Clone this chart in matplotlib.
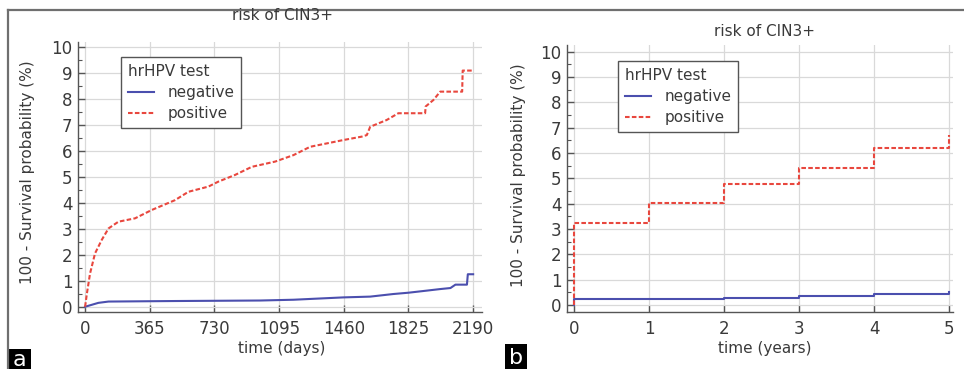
import matplotlib
matplotlib.use("Agg")
import matplotlib.pyplot as plt
from matplotlib.lines import Line2D
from matplotlib.patches import Rectangle
from matplotlib.ticker import MultipleLocator

plt.rcParams['font.family'] = ['DejaVu Sans']

# ---- data: panel a (days) ----
pos_days = [0, 10, 28, 56, 94, 132, 188, 282, 376, 508, 583, 696, 752, 847, 941,
            1072, 1176, 1270, 1364, 1458, 1561, 1590, 1609, 1702, 1768, 1919, 1922,
            1966, 2004, 2128, 2131, 2190]
pos_vals = [0, 0.5, 1.28, 2.05, 2.57, 3.01, 3.27, 3.40, 3.72, 4.10, 4.42, 4.62, 4.81, 5.07, 5.38,
            5.58, 5.83, 6.15, 6.28, 6.41, 6.54, 6.60, 6.92, 7.18, 7.44, 7.44, 7.70,
            7.95, 8.27, 8.27, 9.08, 9.08]
neg_days = [0, 40, 75, 132, 500, 988, 1176, 1458, 1609, 1740, 1825, 1928, 2004, 2062,
            2090, 2155, 2160, 2190]
neg_vals = [0, 0.08, 0.15, 0.20, 0.22, 0.24, 0.27, 0.36, 0.39, 0.49, 0.54, 0.62, 0.68, 0.72,
            0.85, 0.85, 1.25, 1.25]
day_ticks = [0, 365, 730, 1095, 1460, 1825, 2190]

# ---- data: panel b (years) ----
years = [0, 0, 1, 2, 3, 4, 5]
pos_year_vals = [0, 3.22, 4.04, 4.78, 5.40, 6.19, 6.71]
neg_year_vals = [0, 0.24, 0.24, 0.26, 0.35, 0.43, 0.52]
year_ticks = [0, 1, 2, 3, 4, 5]

y_ticks = list(range(0, 11))

BLUE = '#4b4fae'
RED = '#e8473e'
TXT = '#3a3a3a'
GRID = '#d9d9d9'
SPINE = '#555555'

W, H = 964, 369
fig = plt.figure(figsize=(W / 100, H / 100), dpi=100)
fig.patch.set_facecolor('white')


def px_axes(l, r, t, b):
    return fig.add_axes([l / W, 1 - b / H, (r - l) / W, (b - t) / H])


def style(ax):
    for s in ['top', 'right']:
        ax.spines[s].set_visible(False)
    for s in ['left', 'bottom']:
        ax.spines[s].set_color(SPINE)
        ax.spines[s].set_linewidth(1.0)
    ax.set_yticks(y_ticks)
    ax.yaxis.set_minor_locator(MultipleLocator(0.5))
    ax.tick_params(axis='both', which='major', direction='in', length=5, width=1,
                   color=SPINE, labelcolor=TXT, labelsize=12)
    ax.tick_params(axis='y', which='minor', direction='in', length=3, width=0.8, color=SPINE)
    ax.tick_params(axis='y', which='major', pad=4)
    ax.tick_params(axis='x', which='major', pad=6)
    ax.grid(True, which='major', color=GRID, linewidth=0.9)
    ax.set_axisbelow(True)


def make_legend(ax, x0, y0):
    leg = ax.legend(title='hrHPV test', loc='upper left',
                    bbox_to_anchor=(x0 / W, 1 - y0 / H), bbox_transform=fig.transFigure,
                    fontsize=11, title_fontsize=11, frameon=True, fancybox=False,
                    handlelength=1.7, handletextpad=0.9, borderpad=0.45, labelspacing=0.4,
                    borderaxespad=0, framealpha=1)
    leg._legend_box.align = 'left'
    leg.get_frame().set_edgecolor('#555555')
    leg.get_frame().set_linewidth(1.0)
    for t in leg.get_texts():
        t.set_color(TXT)
    leg.get_title().set_color(TXT)
    return leg


# Panel a
axa = px_axes(78, 482, 41.7, 311.7)
style(axa)
axa.set_xlim(-40, 2240)
axa.set_ylim(-0.19, 10.19)
axa.set_xticks(day_ticks)
axa.plot(neg_days, neg_vals, color=BLUE, lw=1.5, label='negative')
axa.plot(pos_days, pos_vals, color=RED, lw=1.5, ls=(0, (2.2, 1.1)), label='positive')
make_legend(axa, 121, 57)

# Panel b
axb = px_axes(567, 953, 45, 312)
style(axb)
axb.set_xlim(-0.093, 5.053)
axb.set_ylim(-0.276, 10.26)
axb.set_xticks(year_ticks)
axb.plot(years, neg_year_vals, color=BLUE, lw=1.5, drawstyle='steps-post', label='negative')
axb.plot(years, pos_year_vals, color=RED, lw=1.5, ls=(0, (2.2, 1.1)), drawstyle='steps-post',
         label='positive')
make_legend(axb, 618, 61)


def ftext(x, y, s, **kw):
    fig.text(x / W, 1 - y / H, s, ha='center', va='center', color=TXT, **kw)


ftext(282, 15, 'risk of CIN3+', fontsize=11)
ftext(765, 32, 'risk of CIN3+', fontsize=11)
ftext(282, 349, 'time (days)', fontsize=11)
ftext(765, 348, 'time (years)', fontsize=11)
ftext(28, 172, '100 - Survival probability (%)', fontsize=11, rotation=90)
ftext(518, 175, '100 - Survival probability (%)', fontsize=11, rotation=90)

# outer frame
fig.add_artist(Line2D([8 / W, 1], [1 - 10 / H, 1 - 10 / H], transform=fig.transFigure,
                      color='#6f6f6f', lw=1.6))
fig.add_artist(Line2D([8 / W, 8 / W], [0, 1 - 10 / H], transform=fig.transFigure,
                      color='#6f6f6f', lw=1.6))

# panel letters
fig.add_artist(Rectangle((8 / W, 0), 23 / W, 20 / H, transform=fig.transFigure,
                         facecolor='black', edgecolor='none'))
fig.text(19.5 / W, 9 / H, 'a', color='white', fontsize=16, ha='center', va='center')
fig.add_artist(Rectangle((505 / W, 0), 22 / W, 25 / H, transform=fig.transFigure,
                         facecolor='black', edgecolor='none'))
fig.text(516 / W, 11 / H, 'b', color='white', fontsize=16, ha='center', va='center')

fig.savefig('out.png', dpi=100, facecolor='white')
